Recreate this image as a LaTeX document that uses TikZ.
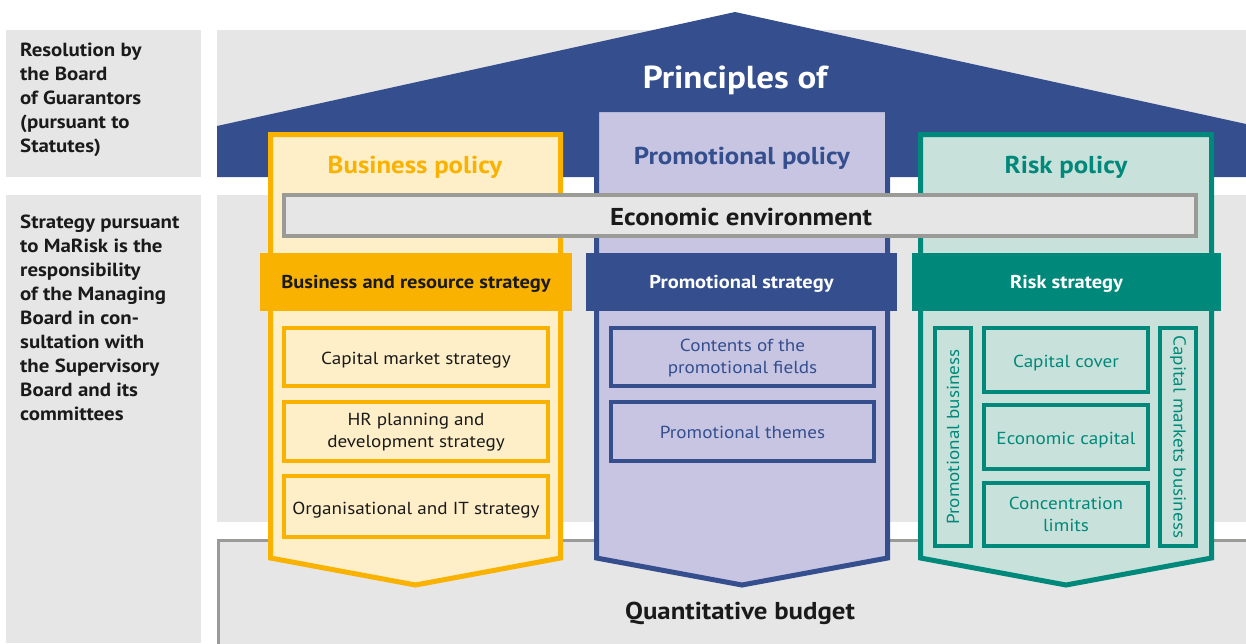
\documentclass[tikz,border=0pt]{standalone}
\usepackage{fontspec}
\setmainfont{PT Sans}[FakeStretch=1.1]
\definecolor{bgray}{HTML}{E6E6E6}
\definecolor{roofblue}{HTML}{344E8E}
\definecolor{kyel}{HTML}{F9B200}
\definecolor{lyel}{HTML}{FEEFC8}
\definecolor{lav}{HTML}{C7C5E2}
\definecolor{kteal}{HTML}{00897A}
\definecolor{lteal}{HTML}{C9E1DB}
\definecolor{egray}{HTML}{9A9A96}
\definecolor{ink}{HTML}{1A1A1A}
\tikzset{
  colframe/.style={line width=5pt, line join=miter},
  subbox/.style={line width=4pt, inner sep=0pt},
  subY/.style={subbox, draw=kyel, fill=lyel},
  subP/.style={subbox, draw=roofblue, fill=lav},
  subR/.style={subbox, draw=kteal, fill=lteal},
  subtext/.style={inner sep=0pt, align=center, font=\fontsize{17.4}{22}\selectfont},
  stratbar/.style={inner sep=0pt},
  strattext/.style={inner sep=0pt, anchor=base, font=\bfseries\fontsize{18.6}{20}\selectfont},
  title/.style={inner sep=0pt, anchor=base, font=\bfseries\fontsize{24.4}{28}\selectfont},
  sidelabel/.style={inner sep=0pt, anchor=north west, align=left, text=ink, font=\bfseries\fontsize{19}{24}\selectfont}
}
\begin{document}
\begin{tikzpicture}[x=1pt,y=-1pt]
\useasboundingbox (0,0) rectangle (1246,643);
% background bands
\fill[bgray] (6,30) rectangle (201,177);
\fill[bgray] (6,195) rectangle (201,643);
\fill[bgray] (217,30) rectangle (1246,177);
\fill[bgray] (217,195) rectangle (1246,522);
\draw[egray, line width=3pt, fill=bgray] (218.5,540.5) rectangle (1262,660);
% roof
\fill[roofblue] (217,177) -- (217,126) -- (735,12) -- (1246,124) -- (1246,177) -- cycle;
\node[inner sep=0pt, anchor=base, text=white, font=\bfseries\fontsize{31.8}{34}\selectfont] (princ) at (735,88) {Principles of};
% side labels
\node[sidelabel] (res) at (20,42.5) {Resolution by\\the Board\\of Guarantors\\(pursuant to\\Statutes)};
\node[sidelabel] (strat) at (20,214.5) {Strategy pursuant\\to MaRisk is the\\responsibility\\of the Managing\\Board in con-\\sultation with\\the Supervisory\\Board and its\\committees};
% columns
\draw[colframe, draw=kyel, fill=lyel] (270.5,134.5) -- (560.5,134.5) -- (560.5,558) -- (415.5,585) -- (270.5,558) -- cycle;
\draw[colframe, draw=roofblue, fill=lav] (596.5,109.5) -- (887.5,109.5) -- (887.5,558) -- (742,585) -- (596.5,558) -- cycle;
\draw[colframe, draw=kteal, fill=lteal] (920.5,134.5) -- (1211.5,134.5) -- (1211.5,558) -- (1066,585) -- (920.5,558) -- cycle;
\node[title, text=kyel] (bp) at (415,173) {Business policy};
\node[title, text=roofblue] (pp) at (742,164) {Promotional policy};
\node[title, text=kteal] (rp) at (1066,173) {Risk policy};
% economic environment
\node[draw=egray, line width=4pt, fill=bgray, minimum width=912pt, minimum height=41pt, inner sep=0pt] (econ) at (740,215.5) {};
\node[title, text=ink] (econt) at (741,225) {Economic environment};
% strategy bars
\node[stratbar, fill=kyel, minimum width=312pt, minimum height=58pt] (bs) at (416,282) {};
\node[strattext, text=ink] at (416,288.5) {Business and resource strategy};
\node[stratbar, fill=roofblue, minimum width=311pt, minimum height=58pt] (ps) at (741.5,282) {};
\node[strattext, text=white] at (741.5,288.5) {Promotional strategy};
\node[stratbar, fill=kteal, minimum width=309pt, minimum height=58pt] (rs) at (1066.5,282) {};
\node[strattext, text=white] at (1066.5,288.5) {Risk strategy};
% business sub boxes
\node[subY, minimum width=264pt, minimum height=58pt] (b1) at (416,357) {};
\node[subtext, text=ink, anchor=base] at (416,364.5) {Capital market strategy};
\node[subY, minimum width=264pt, minimum height=59pt] (b2) at (416,431.5) {};
\node[subtext, text=ink] at (416,432.5) {HR planning and\\development strategy};
\node[subY, minimum width=264pt, minimum height=61pt] (b3) at (416,506.5) {};
\node[subtext, text=ink, anchor=base] at (416,514) {Organisational and IT strategy};
% promotional sub boxes
\node[subP, minimum width=263pt, minimum height=58pt] (p1) at (742.5,357) {};
\node[subtext, text=roofblue] at (742.5,358) {Contents of the\\promotional fields};
\node[subP, minimum width=263pt, minimum height=59pt] (p2) at (742.5,431.5) {};
\node[subtext, text=roofblue, anchor=base] at (742.5,438.5) {Promotional themes};
% risk sub boxes
\node[subR, minimum width=36pt, minimum height=218pt] (r0) at (953,437) {};
\node[subtext, text=kteal, rotate=90] at (r0.center) {Promotional business};
\node[subR, minimum width=36pt, minimum height=218pt] (r4) at (1178,437) {};
\node[subtext, text=kteal, rotate=-90] at (r4.center) {Capital markets business};
\node[subR, minimum width=164pt, minimum height=64pt] (r1) at (1066,360) {};
\node[subtext, text=kteal, anchor=base] at (1066,367) {Capital cover};
\node[subR, minimum width=164pt, minimum height=64pt] (r2) at (1066,437) {};
\node[subtext, text=kteal, anchor=base] at (1066,444) {Economic capital};
\node[subR, minimum width=164pt, minimum height=63pt] (r3) at (1066,514.5) {};
\node[subtext, text=kteal] at (1066,514.5) {Concentration\\limits};
% budget
\node[title, text=ink] (budget) at (740,619) {Quantitative budget};
\end{tikzpicture}
\end{document}
